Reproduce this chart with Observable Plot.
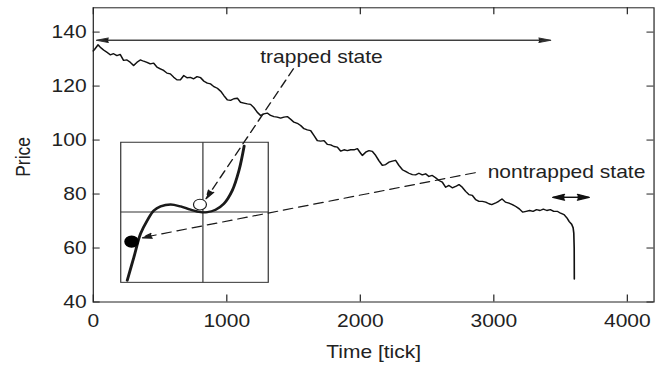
<!DOCTYPE html>
<html><head><meta charset="utf-8">
<script src="https://cdn.jsdelivr.net/npm/d3@7"></script>
<script src="https://cdn.jsdelivr.net/npm/@observablehq/plot@0.6"></script>
<style>
html,body{margin:0;padding:0;background:#fff;}
#chart{width:664px;height:369px;overflow:hidden;}
</style></head><body><div id="chart"></div>
<script>
// ---- data ----
const xTicks = [0, 1000, 2000, 3000, 4000];
const yTicks = [40, 60, 80, 100, 120, 140];
const xLabel = ["Time [tick]"];
const yLabel = ["Price"];

// [time (tick), price]
const priceSeries = [
 [0,133.0],[10,133.6],[35,135.3],[52,134.4],[77,133.4],[102,132.5],[127,131.6],[152,132.0],[177,131.3],[202,131.7],
 [227,129.5],[252,129.7],[277,128.8],[302,127.6],[327,128.8],[352,129.7],[377,129.2],[402,128.8],[427,128.2],[452,128.5],
 [477,127.0],[502,126.4],[527,125.8],[552,124.8],[577,124.5],[602,123.3],[627,122.3],[652,122.3],[677,123.9],[702,123.1],
 [727,123.2],[752,122.7],[777,123.5],[804,123.1],[829,121.8],[854,121.1],[879,120.8],[903,119.8],[929,119.2],[954,118.1],
 [978,116.5],[1004,114.9],[1028,114.7],[1053,115.3],[1079,115.5],[1103,114.0],[1128,113.7],[1154,113.4],[1178,113.2],[1203,112.0],
 [1228,110.3],[1253,109.1],[1278,109.7],[1303,110.0],[1328,109.1],[1353,108.7],[1378,108.5],[1403,108.1],[1428,108.5],[1453,108.7],
 [1478,107.7],[1503,106.6],[1528,106.2],[1553,105.4],[1578,104.2],[1603,103.8],[1628,103.5],[1653,101.7],[1678,99.8],[1703,99.6],
 [1728,99.8],[1753,98.4],[1778,98.2],[1803,97.6],[1828,97.4],[1853,95.9],[1878,96.4],[1903,96.1],[1928,96.4],[1953,96.4],
 [1978,96.8],[2003,95.1],[2015,94.3],[2040,95.5],[2065,96.1],[2090,95.8],[2115,94.3],[2139,92.4],[2165,90.6],[2190,90.9],
 [2214,91.8],[2240,92.2],[2264,92.5],[2289,90.6],[2315,89.0],[2339,88.4],[2364,87.7],[2390,87.2],[2414,87.1],[2439,87.7],
 [2464,87.1],[2489,87.5],[2514,86.5],[2539,86.9],[2564,86.0],[2589,85.0],[2614,84.4],[2639,82.5],[2664,83.2],[2689,82.3],
 [2714,82.8],[2739,83.5],[2764,82.5],[2789,81.0],[2814,79.8],[2839,79.5],[2864,77.9],[2889,77.3],[2914,77.3],[2939,77.0],
 [2964,76.4],[2984,76.1],[3010,76.6],[3036,77.3],[3061,78.2],[3087,77.0],[3113,76.6],[3139,76.1],[3165,75.4],[3191,74.5],
 [3216,73.3],[3242,73.6],[3268,73.9],[3294,73.6],[3320,74.2],[3346,73.9],[3371,74.4],[3397,73.9],[3423,74.2],[3449,73.6],
 [3475,73.6],[3500,72.9],[3526,72.4],[3547,71.2],[3565,69.8],[3583,68.8],[3594,67.5],[3599,65.5],[3602,60.0],[3603,48.5]
];

// inset sketch (potential curve), in the main chart's data units
const insetBox = [{x1: 210, x2: 1315, y1: 47.1, y2: 99}];
const insetAxisX = [821];
const insetAxisY = [73.3];
const insetCurve = [[254,48.0],[304,56.6],[354,65.3],[404,70.2],[454,73.9],[504,75.4],[579,76.1],[654,75.4],
  [729,74.2],[804,73.3],[854,73.3],[916,74.2],[978,76.4],[1041,81.3],[1091,88.7],[1130,97.8]];
const openBall = [[799, 76.1]];
const filledBall = [[287, 62.4]];

// annotations
const stateLabels = [
  {t: 1250, p: 130.5, text: "trapped state"},
  {t: 2954, p: 88.1, text: "nontrapped state"}
];
const longSpan = [{a: 25, b: 3425, p: 137.0}];
const shortSpan = [{a: 3443, b: 3713, p: 78.8}];
const dashedPointers = [
  {x1: 1499, y1: 126.4, x2: 845, y2: 78.3},
  {x1: 2860, y1: 87.9, x2: 362, y2: 63.8}
];

// ---- layout (SVG is drawn in a narrower coordinate box and stretched horizontally) ----
const W = 553, H = 369;
const mL = 77.2, mR = 8.8, mT = 7.3, mB = 67.5;
const innerW = W - mL - mR, innerH = H - mT - mB;
const ink = "#1a1a1a";

const plot = Plot.plot({
  width: W, height: H,
  marginLeft: mL, marginRight: mR, marginTop: mT, marginBottom: mB,
  style: {fontFamily: "'Liberation Sans', Arial, Helvetica, sans-serif", fontSize: "17.5px", color: "#222", background: "#fff"},
  x: {domain: [0, 4200], ticks: xTicks, tickSize: 0, tickPadding: 13, tickFormat: d3.format("d"), label: null},
  y: {domain: [40, 149], ticks: yTicks, tickSize: 0, tickPadding: 5.6, tickFormat: d3.format("d"), label: null},
  marks: [
    Plot.frame({stroke: "#222", strokeWidth: 1}),
    Plot.tickX(xTicks, {x: d => d, insetTop: innerH - 7, stroke: "#222"}),
    Plot.tickX(xTicks, {x: d => d, insetBottom: innerH - 7, stroke: "#222"}),
    Plot.tickY(yTicks, {y: d => d, insetRight: innerW - 5.8, stroke: "#222"}),
    Plot.tickY(yTicks, {y: d => d, insetLeft: innerW - 5.8, stroke: "#222"}),

    // inset
    Plot.rect(insetBox, {x1: "x1", x2: "x2", y1: "y1", y2: "y2", fill: "none", stroke: "#333", strokeWidth: 1}),
    Plot.ruleX(insetAxisX, {x: d => d, y1: insetBox[0].y1, y2: insetBox[0].y2, stroke: "#333", strokeWidth: 1}),
    Plot.ruleY(insetAxisY, {y: d => d, x1: insetBox[0].x1, x2: insetBox[0].x2, stroke: "#333", strokeWidth: 1}),
    Plot.line(insetCurve, {x: d => d[0], y: d => d[1], curve: "catmull-rom", stroke: ink, strokeWidth: 2.4}),

    // price path
    Plot.line(priceSeries, {x: d => d[0], y: d => d[1], stroke: "#111", strokeWidth: 1.35}),

    // dashed pointers
    Plot.arrow(dashedPointers, {x1: "x1", y1: "y1", x2: "x2", y2: "y2", stroke: ink, fill: ink, strokeWidth: 1.2,
      strokeDasharray: "8,5", headLength: 11, headAngle: 32}),

    Plot.dot(openBall, {x: d => d[0], y: d => d[1], r: 5.4, fill: "#fff", stroke: ink, strokeWidth: 1}),
    Plot.dot(filledBall, {x: d => d[0], y: d => d[1], r: 5.4, fill: "#000", stroke: "#000"}),

    // double-headed span arrows
    Plot.arrow(longSpan, {x1: "a", x2: "b", y1: "p", y2: "p", stroke: "#333", fill: "#111", strokeWidth: 1, headLength: 15, headAngle: 26}),
    Plot.arrow(longSpan, {x1: "b", x2: "a", y1: "p", y2: "p", stroke: "#333", fill: "#111", strokeWidth: 1, headLength: 15, headAngle: 26}),
    Plot.arrow(shortSpan, {x1: "a", x2: "b", y1: "p", y2: "p", stroke: "#111", fill: "#111", strokeWidth: 1.3, headLength: 11.5, headAngle: 34}),
    Plot.arrow(shortSpan, {x1: "b", x2: "a", y1: "p", y2: "p", stroke: "#111", fill: "#111", strokeWidth: 1.3, headLength: 11.5, headAngle: 34}),

    Plot.text(stateLabels, {x: "t", y: "p", text: "text", textAnchor: "start", lineAnchor: "middle", fill: "#222"}),

    // axis titles
    Plot.text(xLabel, {frameAnchor: "bottom", dy: 50.2, lineAnchor: "middle", fill: "#222"}),
    Plot.text(yLabel, {frameAnchor: "left", dx: -58.5, dy: 2, rotate: -90, lineAnchor: "middle", textAnchor: "middle", fill: "#222"})
  ]
});

// stretch horizontally to the window size (the reference figure's glyphs are wider than tall)
plot.setAttribute("preserveAspectRatio", "none");
plot.setAttribute("width", 664);
plot.setAttribute("height", 369);
plot.style.width = "664px";
plot.style.height = "369px";
plot.style.maxWidth = "none";
document.getElementById("chart").appendChild(plot);
</script>
</body></html>
